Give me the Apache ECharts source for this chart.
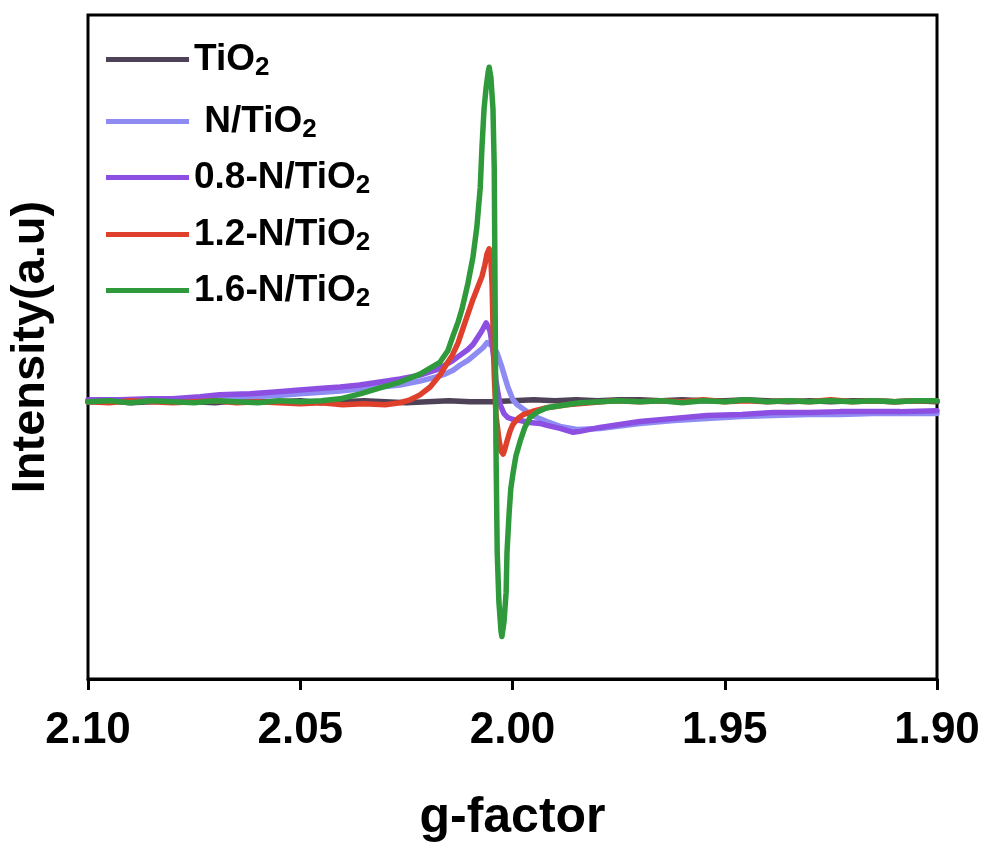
<!DOCTYPE html>
<html>
<head>
<meta charset="utf-8">
<script src="https://cdn.jsdelivr.net/npm/echarts@6/dist/echarts.min.js"></script>
<style>
html,body{margin:0;padding:0;background:#fff;}
#chart{width:985px;height:848px;}
</style>
</head>
<body>
<div id="chart"></div>
<script>
// ---- Data (g-factor vs EPR intensity, arbitrary units) ----
var seriesNames = ['TiO2', 'N/TiO2', '0.8-N/TiO2', '1.2-N/TiO2', '1.6-N/TiO2'];
var xTicks = [2.10, 2.05, 2.00, 1.95, 1.90];

var gTiO2 = [2.100,2.095,2.090,2.085,2.080,2.075,2.070,2.065,2.060,2.055,2.050,2.045,2.040,2.035,2.030,2.025,2.020,2.015,2.010,2.005,2.000,1.995,1.990,1.985,1.980,1.975,1.970,1.965,1.960,1.955,1.950,1.945,1.940,1.935,1.930,1.925,1.920,1.915,1.910,1.905,1.900];
var iTiO2 = [0,1,-1,0,1,0,-1,1,0,0,1,-1,0,1,0,-1,0,1,0,0,1,2,1,2,1,2,2,1,2,1,1,2,1,0,1,0,1,1,0,1,0];

var gNTiO2 = [2.100,2.0925,2.0854,2.080,2.0736,2.069,2.0618,2.056,2.0501,2.044,2.0406,2.036,2.0312,2.0265,2.0218,2.0182,2.0159,2.0140,2.0124,2.0105,2.0088,2.0069,2.0060,2.0053,2.0046,2.0036,2.0025,2.0018,2.0011,1.9999,1.9989,1.9982,1.9966,1.9959,1.9919,1.9888,1.9848,1.9794,1.9700,1.9620,1.9542,1.9460,1.9386,1.9300,1.9228,1.9150,1.9087,1.9000];
var iNTiO2 = [0,1,1,2,3,4,5,6,8,10,11,13,15,17,21,25,28,32,37,42,48,55,60,58,57,49,35,25,15,2,-3,-5,-10,-13,-20,-25,-28,-27,-22,-19,-17,-15,-14,-13,-13,-12,-12,-12];

var g08 = [2.100,2.0925,2.0854,2.080,2.0736,2.069,2.0618,2.056,2.0501,2.044,2.0406,2.036,2.0312,2.0265,2.0218,2.0182,2.0159,2.0140,2.0124,2.0105,2.0093,2.0081,2.0072,2.0067,2.0062,2.0058,2.0053,2.0048,2.0043,2.0039,2.0034,2.0029,2.0020,2.0011,1.9999,1.9982,1.9959,1.9935,1.9919,1.9888,1.9857,1.9841,1.9818,1.9794,1.9747,1.9700,1.9620,1.9542,1.9460,1.9386,1.9300,1.9228,1.9150,1.9087,1.9000];
var i08 = [2,2,3,3,5,7,8,10,12,14,15,17,20,23,27,32,37,42,47,53,58,66,72,76,80,79,72,58,40,22,8,-3,-12,-16,-18,-19,-21,-22,-24,-27,-31,-30,-28,-26,-23,-20,-17,-14,-13,-11,-11,-10,-10,-10,-9];

var g12 = [2.100,2.095,2.090,2.085,2.080,2.075,2.070,2.065,2.060,2.055,2.050,2.045,2.040,2.035,2.030,2.0265,2.0241,2.0218,2.0194,2.0171,2.0154,2.0142,2.0128,2.0117,2.0105,2.0093,2.0081,2.0072,2.0065,2.0060,2.0055,2.0051,2.0048,2.0046,2.0043,2.0039,2.0032,2.0027,2.0022,2.0018,2.0013,2.0006,1.9999,1.9987,1.9975,1.9947,1.9919,1.9872,1.9817,1.9763,1.970,1.965,1.960,1.955,1.950,1.945,1.940,1.935,1.930,1.925,1.920,1.915,1.910,1.905,1.900];
var i12 = [0,-1,1,0,-1,0,1,-1,0,-1,-2,-1,-3,-2,-3,-1,2,7,15,27,39,47,60,74,89,104,117,127,139,150,155,145,117,77,27,-13,-38,-50,-53,-48,-40,-30,-23,-17,-13,-9,-6,-3,-1,1,0,1,0,2,0,1,0,1,0,2,0,1,0,1,1];

var g16 = [2.100,2.095,2.090,2.085,2.080,2.075,2.070,2.065,2.060,2.055,2.050,2.045,2.0406,2.0359,2.0312,2.0265,2.0218,2.0171,2.0152,2.0140,2.0128,2.0119,2.0105,2.0093,2.0084,2.0076,2.0072,2.0067,2.0062,2.0057,2.0055,2.0051,2.0046,2.0043,2.0041,2.0039,2.0036,2.0032,2.0027,2.0025,2.0020,2.0015,2.0013,2.0008,2.0004,1.9999,1.9992,1.9982,1.9971,1.9959,1.9940,1.9919,1.9889,1.9841,1.9794,1.975,1.970,1.965,1.960,1.955,1.950,1.945,1.940,1.935,1.930,1.925,1.920,1.915,1.910,1.905,1.900];
var i16 = [0,1,-1,1,0,-1,1,0,-1,1,0,1,3,8,14,20,28,40,52,67,81,94,120,147,177,217,257,297,319,335,339,329,297,237,107,-43,-153,-203,-233,-238,-223,-193,-153,-113,-88,-73,-55,-40,-26,-16,-10,-6,-4,-1,0,1,0,1,-1,1,0,2,0,1,0,1,0,1,0,1,1];

var seriesG = [gTiO2, gNTiO2, g08, g12, g16];
var seriesI = [iTiO2, iNTiO2, i08, i12, i16];

// ---- Styling ----
var colors = ['#4d4257', '#8e8cf3', '#8c4fe2', '#df402c', '#2f9a3b'];
var FONT = '"Liberation Sans", Arial, Helvetica, sans-serif';
var legendRowCenters = [62, 124, 180, 237, 293];

function zip(g, v) {
  var out = [];
  for (var i = 0; i < g.length; i++) out.push([g[i], v[i]]);
  return out;
}

var series = seriesNames.map(function (name, k) {
  return {
    name: name,
    type: 'line',
    data: zip(seriesG[k], seriesI[k]),
    showSymbol: false,
    symbol: 'none',
    smooth: false,
    sampling: null,
    lineStyle: { width: 5.5, color: colors[k], join: 'round', cap: 'round' },
    itemStyle: { color: colors[k] },
    z: 2 + k
  };
});

var legends = seriesNames.map(function (name, k) {
  return {
    data: [name],
    left: 106,
    top: legendRowCenters[k] - 21,
    orient: 'vertical',
    icon: 'rect',
    itemWidth: 83,
    itemHeight: 5,
    itemGap: 0,
    padding: 0,
    selectedMode: false,
    formatter: function (n) {
      var base = n.slice(0, -1);
      var lead = (n === 'N/TiO2') ? ' ' : '';
      return '{b|' + lead + base + '}{s|2}';
    },
    textStyle: {
      fontFamily: FONT,
      fontWeight: 'bold',
      fontSize: 37,
      color: '#000',
      rich: {
        b: { fontFamily: FONT, fontWeight: 'bold', fontSize: 37, lineHeight: 42, color: '#000' },
        s: { fontFamily: FONT, fontWeight: 'bold', fontSize: 26, lineHeight: 6, verticalAlign: 'bottom', color: '#000' }
      }
    }
  };
});

var chart = echarts.init(document.getElementById('chart'), null, { renderer: 'canvas' });
chart.setOption({
  animation: false,
  backgroundColor: '#fff',
  color: colors,
  grid: {
    left: 88, right: 48, top: 15, bottom: 160,
    show: true, borderColor: '#000', borderWidth: 3, backgroundColor: 'transparent'
  },
  legend: legends,
  xAxis: {
    type: 'value',
    min: 1.90, max: 2.10, interval: 0.05,
    inverse: true,
    axisLine: { show: true, onZero: false, lineStyle: { color: '#000', width: 3 } },
    axisTick: { show: true, length: 11, inside: false, lineStyle: { color: '#000', width: 3 } },
    splitLine: { show: false },
    axisLabel: {
      show: true, margin: 30, color: '#000', fontFamily: FONT, fontWeight: 'bold', fontSize: 44,
      showMinLabel: true, showMaxLabel: true,
      formatter: function (v) {
        for (var i = 0; i < xTicks.length; i++) {
          if (Math.abs(xTicks[i] - v) < 1e-6) return xTicks[i].toFixed(2);
        }
        return '';
      }
    },
    name: 'g-factor',
    nameLocation: 'middle',
    nameGap: 114,
    nameTextStyle: { color: '#000', fontFamily: FONT, fontWeight: 'bold', fontSize: 50 }
  },
  yAxis: {
    type: 'value',
    min: -281, max: 392,
    axisLine: { show: false },
    axisTick: { show: false },
    axisLabel: { show: false },
    splitLine: { show: false },
    name: 'Intensity(a.u)',
    nameLocation: 'middle',
    nameGap: 33,
    nameRotate: 90,
    nameTextStyle: { color: '#000', fontFamily: FONT, fontWeight: 'bold', fontSize: 47 }
  },
  series: series
});
</script>
</body>
</html>
